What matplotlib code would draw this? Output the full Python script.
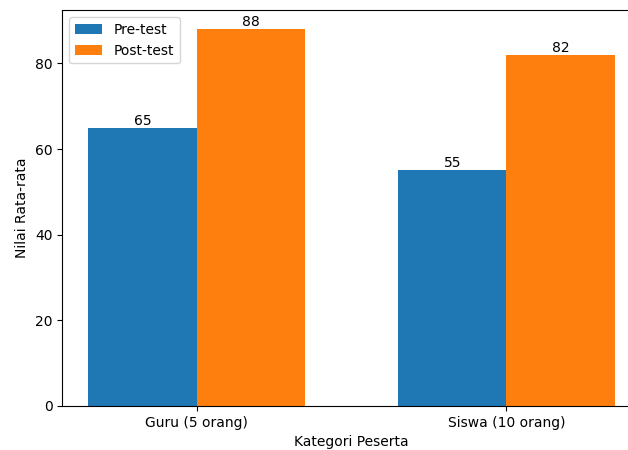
import numpy as np
import matplotlib
matplotlib.use("Agg")
import matplotlib.pyplot as plt

# Data
categories = ['Guru (5 orang)', 'Siswa (10 orang)']
pre_test = [65, 55]
post_test = [88, 82]

x = np.arange(len(categories))
width = 0.35

fig, ax = plt.subplots(figsize=(6.28, 4.5), dpi=100)
b1 = ax.bar(x - width / 2, pre_test, width, label='Pre-test')
b2 = ax.bar(x + width / 2, post_test, width, label='Post-test')

ax.bar_label(b1)
ax.bar_label(b2)

ax.set_xticks(x)
ax.set_xticklabels(categories)
ax.set_xlabel('Kategori Peserta')
ax.set_ylabel('Nilai Rata-rata')
ax.legend(loc='upper left')

# the reference is cut off on the right, so the axes run past the edge
fig.subplots_adjust(left=0.099, right=1.021, top=0.977, bottom=0.098)
fig.savefig('out.png')
